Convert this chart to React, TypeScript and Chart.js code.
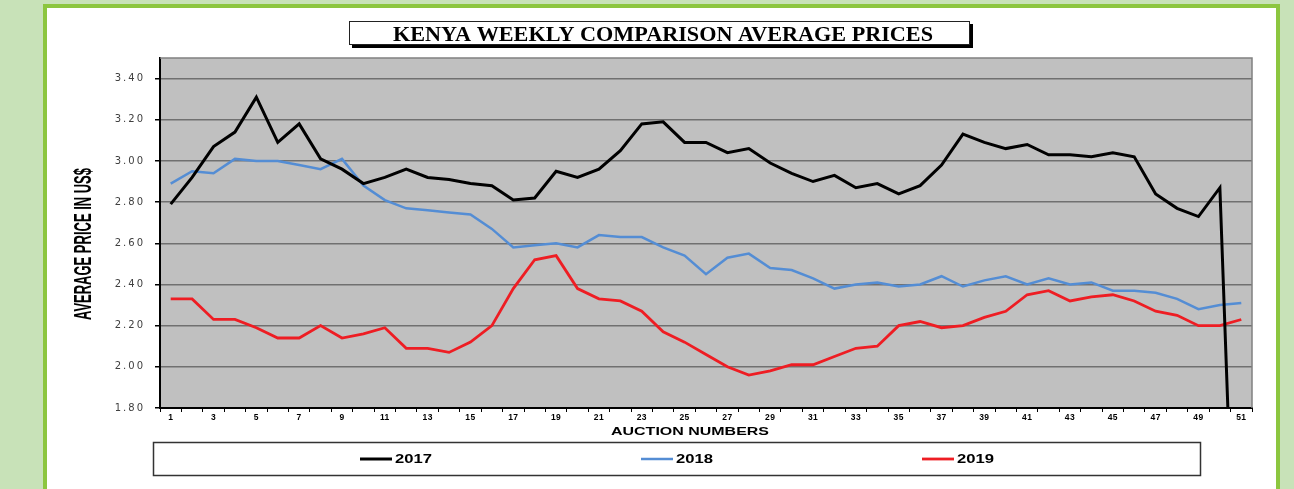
import React, { useEffect, useRef } from "react";
import { Chart, registerables } from "chart.js";

Chart.register(...registerables);

const auctionLabels = [
  "1", "2", "3", "4", "5", "6", "7", "8", "9", "10",
  "11", "12", "13", "14", "15", "16", "17", "18", "19", "20",
  "21", "22", "23", "24", "25", "26", "27", "28", "29", "30",
  "31", "32", "33", "34", "35", "36", "37", "38", "39", "40",
  "41", "42", "43", "44", "45", "46", "47", "48", "49", "50", "51",
];

const prices2017 = [
  2.79, 2.92, 3.07, 3.14, 3.31, 3.09, 3.18, 3.01, 2.96, 2.89,
  2.92, 2.96, 2.92, 2.91, 2.89, 2.88, 2.81, 2.82, 2.95, 2.92,
  2.96, 3.05, 3.18, 3.19, 3.09, 3.09, 3.04, 3.06, 2.99, 2.94,
  2.9, 2.93, 2.87, 2.89, 2.84, 2.88, 2.98, 3.13, 3.09, 3.06,
  3.08, 3.03, 3.03, 3.02, 3.04, 3.02, 2.84, 2.77, 2.73, 2.87, 0,
];

const prices2018 = [
  2.89, 2.95, 2.94, 3.01, 3.0, 3.0, 2.98, 2.96, 3.01, 2.88,
  2.81, 2.77, 2.76, 2.75, 2.74, 2.67, 2.58, 2.59, 2.6, 2.58,
  2.64, 2.63, 2.63, 2.58, 2.54, 2.45, 2.53, 2.55, 2.48, 2.47,
  2.43, 2.38, 2.4, 2.41, 2.39, 2.4, 2.44, 2.39, 2.42, 2.44,
  2.4, 2.43, 2.4, 2.41, 2.37, 2.37, 2.36, 2.33, 2.28, 2.3, 2.31,
];

const prices2019 = [
  2.33, 2.33, 2.23, 2.23, 2.19, 2.14, 2.14, 2.2, 2.14, 2.16,
  2.19, 2.09, 2.09, 2.07, 2.12, 2.2, 2.38, 2.52, 2.54, 2.38,
  2.33, 2.32, 2.27, 2.17, 2.12, 2.06, 2.0, 1.96, 1.98, 2.01,
  2.01, 2.05, 2.09, 2.1, 2.2, 2.22, 2.19, 2.2, 2.24, 2.27,
  2.35, 2.37, 2.32, 2.34, 2.35, 2.32, 2.27, 2.25, 2.2, 2.2, 2.23,
];

const seriesNames = ["2017", "2018", "2019"];
const seriesColors = ["#000000", "#548dd4", "#ee1d23"];
const seriesWidths = [3, 2.5, 2.8];

const chartTitle = "KENYA WEEKLY COMPARISON AVERAGE PRICES";
const yTitle = "AVERAGE PRICE IN US$";
const xTitle = "AUCTION NUMBERS";

function fitText(
  ctx: CanvasRenderingContext2D,
  text: string,
  x: number,
  y: number,
  width: number,
  font: string,
  color: string,
  align: CanvasTextAlign,
  baseline: CanvasTextBaseline
) {
  ctx.save();
  (ctx as any).letterSpacing = "0px";
  ctx.font = font;
  ctx.fillStyle = color;
  ctx.textAlign = align;
  ctx.textBaseline = baseline;
  const w = ctx.measureText(text).width;
  ctx.translate(x, y);
  ctx.scale(width / w, 1);
  ctx.fillText(text, 0, 0);
  ctx.restore();
}

function patchSpacing(chart: any, id: string, spacing: string) {
  const scale = chart.scales[id];
  if (!scale || scale.__patched) return;
  const orig = scale.drawLabels;
  scale.drawLabels = function (area: any) {
    const ctx = chart.ctx;
    (ctx as any).letterSpacing = spacing;
    orig.call(this, area);
    (ctx as any).letterSpacing = "0px";
  };
  scale.__patched = true;
}

const decorPlugin = {
  id: "decor",
  beforeDraw(chart: any) {
    patchSpacing(chart, "y", "2px");
    patchSpacing(chart, "x", "0.4px");
    const { ctx, chartArea: a } = chart;
    ctx.save();
    ctx.fillStyle = "#c0c0c0";
    ctx.fillRect(a.left, a.top, a.right - a.left, a.bottom - a.top);
    ctx.restore();
  },
  beforeDatasetsDraw(chart: any) {
    const { ctx, chartArea: a } = chart;
    ctx.save();
    ctx.strokeStyle = "#808080";
    ctx.lineWidth = 1.5;
    ctx.beginPath();
    ctx.moveTo(a.left, a.top);
    ctx.lineTo(a.right, a.top);
    ctx.lineTo(a.right, a.bottom);
    ctx.stroke();
    ctx.restore();
  },
  afterDraw(chart: any) {
    const { ctx, chartArea: a } = chart;
    (ctx as any).letterSpacing = "0px";

    // Title box with shadow
    ctx.save();
    ctx.fillStyle = "#000";
    ctx.fillRect(305, 16, 621, 24);
    ctx.fillStyle = "#fff";
    ctx.fillRect(302, 13, 621, 24);
    ctx.strokeStyle = "#222";
    ctx.lineWidth = 1;
    ctx.strokeRect(302.5, 13.5, 620, 23);
    ctx.restore();
    fitText(ctx, chartTitle, 616, 32.5, 540, "bold 22px 'Liberation Serif', 'DejaVu Serif', serif", "#000", "center", "alphabetic");

    // Y title
    ctx.save();
    ctx.translate(37, (a.top + a.bottom) / 2 + 11);
    ctx.rotate(-Math.PI / 2);
    fitText(ctx, yTitle, 0, 0, 152, "bold 24px 'Liberation Sans Narrow', 'Liberation Sans', sans-serif", "#000", "center", "middle");
    ctx.restore();

    // X title
    fitText(ctx, xTitle, (a.left + a.right) / 2 - 16, 424, 158, "bold 11px 'Liberation Sans', Arial, sans-serif", "#000", "center", "middle");

    // Legend box
    ctx.save();
    ctx.strokeStyle = "#333";
    ctx.lineWidth = 1.5;
    ctx.strokeRect(106.5, 434.5, 1047, 33);
    ctx.restore();

    chart.data.datasets.forEach((ds: any, i: number) => {
      const sx = 313 + i * 281;
      const cy = 451;
      ctx.save();
      ctx.strokeStyle = ds.borderColor;
      ctx.lineWidth = ds.borderWidth;
      ctx.beginPath();
      ctx.moveTo(sx, cy);
      ctx.lineTo(sx + 32, cy);
      ctx.stroke();
      ctx.restore();
      fitText(ctx, ds.label, sx + 35, cy, 37, "bold 13px 'Liberation Sans Narrow', 'Liberation Sans', sans-serif", "#000", "left", "middle");
    });
  },
};

export default function App() {
  const canvasRef = useRef<HTMLCanvasElement | null>(null);

  useEffect(() => {
    const canvas = canvasRef.current;
    if (!canvas) return;
    const series = [prices2017, prices2018, prices2019];
    const chart = new Chart(canvas, {
      type: "line",
      data: {
        labels: auctionLabels,
        datasets: series.map((d, i) => ({
          label: seriesNames[i],
          data: d,
          borderColor: seriesColors[i],
          backgroundColor: seriesColors[i],
          borderWidth: seriesWidths[i],
          pointRadius: 0,
          tension: 0,
          fill: false,
        })),
      },
      options: {
        responsive: false,
        animation: false,
        devicePixelRatio: 1,
        layout: { padding: { left: 0, right: 24, top: 50, bottom: 61 } },
        plugins: {
          legend: { display: false },
          title: { display: false },
          tooltip: { enabled: false },
        },
        scales: {
          x: {
            type: "category",
            offset: true,
            grid: {
              display: true,
              drawOnChartArea: false,
              offset: true,
              color: "#000",
              lineWidth: 1,
              tickLength: 4,
            },
            border: { display: true, color: "#000", width: 2 },
            ticks: {
              autoSkip: false,
              maxRotation: 0,
              minRotation: 0,
              padding: 1,
              color: "#000",
              font: { size: 8.5, weight: "bold", family: "'Liberation Sans', Arial, sans-serif" },
              callback: (_v: any, i: number) => (i % 2 === 0 ? auctionLabels[i] : ""),
            },
            afterFit: (s: any) => {
              s.height = 20;
            },
          },
          y: {
            min: 1.8,
            max: 3.5,
            ticks: {
              stepSize: 0.2,
              color: "#404040",
              padding: 10,
              font: { size: 10, family: "'DejaVu Sans', sans-serif" },
              callback: (v: any) => Number(v).toFixed(2),
            },
            afterBuildTicks: (s: any) => {
              s.ticks = s.ticks.filter((t: any) => t.value < 3.45);
            },
            grid: { color: "#707070", lineWidth: 1.5, tickColor: "#000", tickLength: 5 },
            border: { display: true, color: "#000", width: 2 },
            afterFit: (s: any) => {
              s.width = 113;
            },
          },
        },
      } as any,
      plugins: [decorPlugin],
    });
    return () => chart.destroy();
  }, []);

  return (
    <div
      style={{
        position: "absolute",
        left: 0,
        top: 0,
        width: 1294,
        height: 489,
        background: "#c8e2b8",
        overflow: "hidden",
      }}
    >
      <div
        style={{
          position: "absolute",
          left: 43,
          top: 4,
          width: 1229,
          height: 520,
          border: "4px solid #8cc63f",
          background: "#ffffff",
        }}
      >
        <canvas ref={canvasRef} width={1229} height={481} style={{ display: "block" }} />
      </div>
    </div>
  );
}
